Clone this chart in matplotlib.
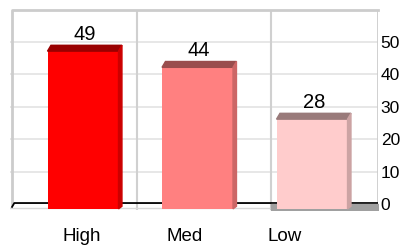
import matplotlib.pyplot as plt
from matplotlib.patches import Polygon

plt.rcParams['font.family'] = ['Liberation Sans', 'DejaVu Sans']

categories = ['High', 'Med', 'Low']
values = [49, 44, 28]
front_colors = ['#FF0000', '#FF8080', '#FFCCCC']
top_colors = ['#990000', '#994D4D', '#997A7A']
side_colors = ['#CC0000', '#CC6666', '#CCA3A3']
yticks = [0, 10, 20, 30, 40, 50]

fig = plt.figure(figsize=(4.04, 2.46), dpi=100)
ax = fig.add_axes([10 / 404, 1 - 210 / 246, 368 / 404, 200 / 246])
ax.set_xlim(-0.6376, 2.576)
ax.set_ylim(-1.85, 59.9)

# grid and walls
for y in yticks[1:]:
    ax.axhline(y, color='#E3E3E3', lw=1.2, zorder=0)
for x in [0.4716, 1.642]:
    ax.axvline(x, color='#D0D0D0', lw=1.5, zorder=0)
ax.plot([-0.62, -0.62, 2.576], [0, 59.9, 59.9], color='#CCCCCC', lw=2, zorder=0, clip_on=False)
ax.axvline(2.576, color='#CCCCCC', lw=2, zorder=0)

# floor
ax.plot([-0.637, 2.576], [-1.3, -1.3], color='#D8D8D8', lw=1, zorder=1)
ax.plot([-0.62, -0.6, 2.576], [-0.9, 0.3, 0.3], color='black', lw=1.3, zorder=1)
ax.fill_between([1.642, 2.576], -1.85, 0.1, color='#A0A0A0', zorder=1)

w = 0.62
dx = 0.03
depth = 1.8
base = -1.5
for i, (v, fc, tc, sc) in enumerate(zip(values, front_colors, top_colors, side_colors)):
    x0 = i - w / 2
    x1 = i + w / 2
    ax.bar(i, v - depth - base, bottom=base, width=w, color=fc, zorder=3)
    ax.add_patch(Polygon([(x0, v - depth), (x1, v - depth), (x1 + dx, v), (x0 + dx, v)],
                         closed=True, color=tc, zorder=3))
    ax.add_patch(Polygon([(x1, base), (x1 + dx, base + 0.8), (x1 + dx, v), (x1, v - depth)],
                         closed=True, color=sc, zorder=3))
    ax.text(i + dx / 2, v + 0.5, str(v), ha='center', va='bottom', fontsize=14.5)

ax.yaxis.tick_right()
ax.set_yticks(yticks)
ax.tick_params(axis='y', length=0, pad=2, labelsize=12.5)
ax.set_xticks([-0.009, 0.891, 1.764])
ax.set_xticklabels(categories)
ax.tick_params(axis='x', length=0, pad=13, labelsize=13.5)
for s in ax.spines.values():
    s.set_visible(False)

fig.savefig('out.png', dpi=100)
